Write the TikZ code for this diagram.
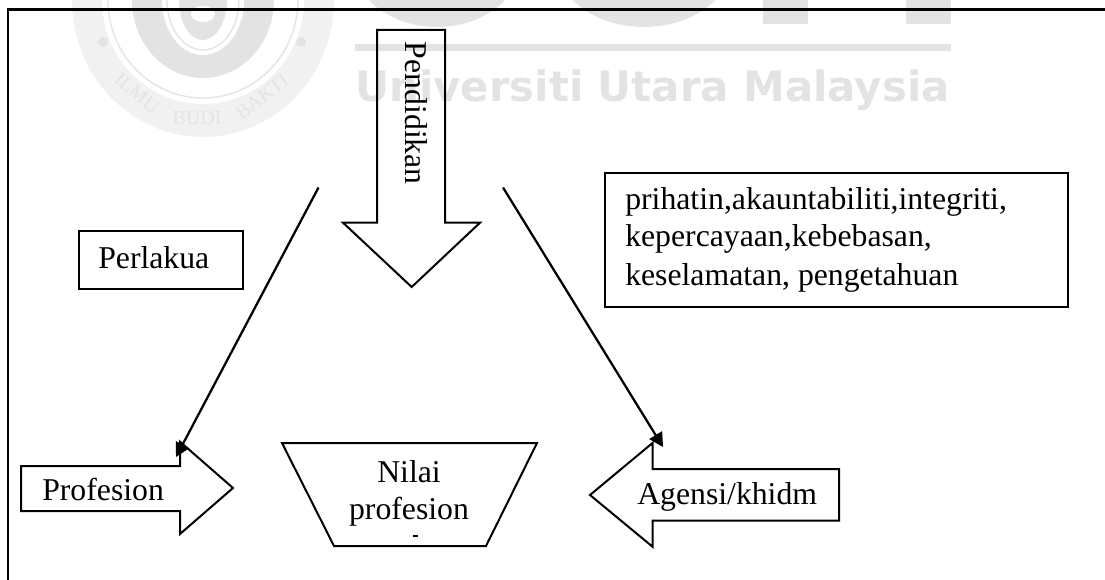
\documentclass[tikz,border=0pt]{standalone}
\usepackage{fontspec}
\setmainfont{Liberation Serif}
\newfontfamily\wmfont{DejaVu Sans}
\usetikzlibrary{arrows.meta}
\definecolor{wmgray}{HTML}{E3E3E3}
\definecolor{wmlight}{HTML}{F1F1F1}
\definecolor{wmmid}{HTML}{E4E4E4}
\tikzset{
  shapeline/.style={draw=black,line width=1.5pt,line join=miter},
  framebox/.style={draw=black,line width=1.5pt,inner sep=0pt,anchor=north west},
  lbl/.style={inner sep=0pt,anchor=base west,font=\fontsize{23.8}{30}\selectfont},
  lblc/.style={inner sep=0pt,anchor=base,font=\fontsize{23.8}{30}\selectfont},
  conn/.style={draw=black,line width=1.7pt,-{Triangle[length=10.5pt,width=11pt]}},
  wmtext/.style={inner sep=0pt,text=wmmid,font=\fontsize{15}{17}\selectfont}
}
\begin{document}
\begin{tikzpicture}[x=0.75pt,y=-0.75pt]
\useasboundingbox (0,0) rectangle (1105,580);
\begin{scope}
\clip (0,0) rectangle (1105,137);
% seal watermark
\fill[wmlight] (203,0) ellipse [x radius=131,y radius=137];
\fill[white] (203,0) ellipse [x radius=101,y radius=104];
\draw[wmgray,line width=1pt] (203,0) ellipse [x radius=95,y radius=98];
\fill[wmgray] (203,0) ellipse [x radius=71,y radius=78];
\fill[white] (203,0) ellipse [x radius=41,y radius=55];
\draw[wmgray,line width=1pt] (203,0) ellipse [x radius=36,y radius=50];
\fill[wmgray] (203,0) ellipse [x radius=24,y radius=40];
\fill[white] (203,14) ellipse [x radius=12,y radius=8];
\fill[wmgray] (103,42) circle [radius=5];
\fill[wmgray] (301,42) circle [radius=5];
\node[wmtext,rotate=-40] (wmA) at (137,93) {ILMU};
\node[wmtext] (wmB) at (197,118) {BUDI};
\node[wmtext,rotate=38] (wmC) at (262,97) {BAKTI};
% big letters
\fill[wmgray] (437,-40) ellipse [x radius=85,y radius=67];
\fill[wmgray] (644,-40) ellipse [x radius=89,y radius=67];
\fill[wmgray] (763,-5) rectangle (808,24);
\fill[wmgray] (906,-5) rectangle (951,24);
\fill[wmgray] (355,44) rectangle (951,51);
\end{scope}
\node[inner sep=0pt,anchor=base west,text=wmgray,font=\wmfont\bfseries\fontsize{31.4}{34}\selectfont] (wmU) at (355,102) {Universiti Utara Malaysia};
% outer frame
\coordinate (fbl) at (8,580);
\coordinate (ftl) at (8,9.5);
\coordinate (ftr) at (1105,9.5);
\draw[black,line width=1.9pt] (fbl) -- (ftl) -- (ftr);
% central down arrow
\draw[shapeline] (377,30) -- (445,30) -- (445,222.7) -- (480,222.7) -- (411.7,287) -- (343,222.7) -- (377,222.7) -- cycle;
\node[lbl,rotate=-90] (pend) at (405,41.7) {Pendidikan};
% boxes
\node[framebox,minimum width=123pt,minimum height=43.5pt] (perl) at (78,230) {};
\node[lbl] (perlt) at (98,269) {Perlakua};
\node[framebox,minimum width=347pt,minimum height=100.3pt] (vals) at (604,172) {};
\node[lbl] (v1) at (625,210) {prihatin,akauntabiliti,integriti,};
\node[lbl] (v2) at (625,247) {kepercayaan,kebebasan,};
\node[lbl] (v3) at (625,286) {keselamatan, pengetahuan};
% profesion arrow
\draw[shapeline] (21,466) -- (180,466) -- (180,441.7) -- (233,488) -- (180,534) -- (180,511) -- (21,511) -- cycle;
\node[lbl] (prof) at (42,500.7) {Profesion};
% trapezoid
\draw[shapeline] (282,443) -- (537,443) -- (486,546) -- (334,546) -- cycle;
\node[lblc] (nil1) at (409,482) {Nilai};
\node[lblc] (nil2) at (409,519) {profesion};
\coordinate (tickA) at (413,536);
\coordinate (tickB) at (418,536);
\draw[black,line width=0.9pt] (tickA) -- (tickB);
% agensi arrow
\draw[shapeline] (839,469) -- (652.5,469) -- (652.5,443) -- (590,495) -- (652.5,546.7) -- (652.5,520.7) -- (839,520.7) -- cycle;
\node[lbl] (agen) at (637,504) {Agensi/khidm};
% connectors
\coordinate (ls) at (318.5,187.5);
\coordinate (le) at (176,457);
\coordinate (rs) at (503,187.5);
\coordinate (re) at (663,447);
\draw[conn] (ls) -- (le);
\draw[conn] (rs) -- (re);
\end{tikzpicture}
\end{document}
